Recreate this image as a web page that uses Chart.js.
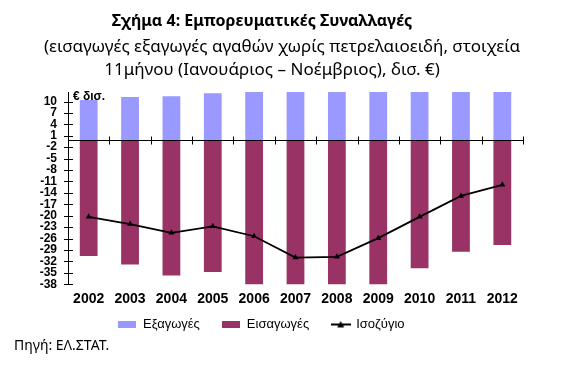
<!DOCTYPE html>
<html>
<head>
<meta charset="utf-8">
<script src="https://cdn.jsdelivr.net/npm/chart.js@4/dist/chart.umd.min.js"></script>
<style>
  html, body { margin: 0; padding: 0; background: #fff; }
  #wrap { position: relative; width: 562px; height: 369px; }
  .t { position: absolute; white-space: nowrap; color: #000; font-family: "Noto Sans", sans-serif; transform: translate(-50%, -50%); }
  #title { left: 262px; top: 20px; font-size: 16px; font-weight: bold; }
  #sub1 { left: 282px; top: 45px; font-size: 17px; }
  #sub2 { left: 272px; top: 68px; font-size: 17px; }
  #source { position: absolute; left: 14px; top: 335px; font: 14px "Noto Sans", sans-serif; color: #000; }
</style>
</head>
<body>
<div id="wrap">
  <canvas id="myChart" width="562" height="369"></canvas>
  <div class="t" id="title">Σχήμα 4: Εμπορευματικές Συναλλαγές</div>
  <div class="t" id="sub1">(εισαγωγές εξαγωγές αγαθών χωρίς πετρελαιοειδή, στοιχεία</div>
  <div class="t" id="sub2">11μήνου (Ιανουάριος – Νοέμβριος), δισ. €)</div>
  <div id="source">Πηγή: ΕΛ.ΣΤΑΤ.</div>
</div>
<script>
// data (δισ. €, 11 μήνες)
const years = ["2002", "2003", "2004", "2005", "2006", "2007", "2008", "2009", "2010", "2011", "2012"];
const exportsData = [10.4, 11.2, 11.4, 12.2, 13.0, 13.5, 13.8, 12.8, 13.5, 14.7, 15.8];
const importsData = [-30.6, -32.8, -35.7, -34.8, -38.4, -44.5, -44.6, -38.7, -33.8, -29.5, -27.7];
const balanceData = [-20.3, -22.2, -24.5, -22.8, -25.4, -31.0, -30.8, -25.9, -20.3, -14.8, -11.9];
const yTicks = [10, 7, 4, 1, -2, -5, -8, -11, -14, -17, -20, -23, -26, -29, -32, -35, -38];

const colExports = "#9999FF";
const colImports = "#993366";

// legend swatches
function boxSwatch(color) {
  const c = document.createElement("canvas");
  c.width = 18; c.height = 7;
  const g = c.getContext("2d");
  g.fillStyle = color;
  g.fillRect(0, 0, 18, 7);
  return c;
}
function lineSwatch() {
  const c = document.createElement("canvas");
  c.width = 20; c.height = 8;
  const g = c.getContext("2d");
  g.strokeStyle = "#000";
  g.lineWidth = 2;
  g.beginPath(); g.moveTo(0, 4); g.lineTo(20, 4); g.stroke();
  g.fillStyle = "#000";
  g.beginPath(); g.moveTo(10, 0.5); g.lineTo(13.5, 7); g.lineTo(6.5, 7); g.closePath(); g.fill();
  return c;
}
const legendStyles = [boxSwatch(colExports), boxSwatch(colImports), lineSwatch()];
const legendPad = ["\u2002\u2002\u2002", "\u2002\u2002\u2002", ""];

// zero line + cross ticks, unit label
const axisDeco = {
  id: "axisDeco",
  afterDraw(chart) {
    const { ctx, chartArea, scales } = chart;
    const y0 = Math.round(scales.y.getPixelForValue(0)) + 0.5;
    const n = years.length;
    const step = (chartArea.right - chartArea.left) / n;
    ctx.save();
    ctx.strokeStyle = "#000";
    ctx.lineWidth = 1;
    ctx.beginPath();
    ctx.moveTo(chartArea.left, y0);
    ctx.lineTo(chartArea.right + 1, y0);
    for (let i = 1; i <= n; i++) {
      const x = Math.round(chartArea.left + i * step) + 0.5;
      ctx.moveTo(x, y0 - 4);
      ctx.lineTo(x, y0 + 4);
    }
    yTicks.forEach(v => {
      const y = Math.round(scales.y.getPixelForValue(v)) + 0.5;
      ctx.moveTo(chartArea.left - 4, y);
      ctx.lineTo(chartArea.left + 5, y);
    });
    ctx.stroke();
    ctx.fillStyle = "#000";
    ctx.font = "bold 12px Arial";
    ctx.textBaseline = "middle";
    ctx.fillText("€ δισ.", chartArea.left + 5, chartArea.top + 5);
    ctx.restore();
  }
};

const config = {
  type: "bar",
  data: {
    labels: years,
    datasets: [
      {
        label: "Εξαγωγές",
        data: exportsData,
        backgroundColor: colExports,
        barPercentage: 0.43,
        categoryPercentage: 1,
        order: 1,
      },
      {
        label: "Εισαγωγές",
        data: importsData,
        backgroundColor: colImports,
        barPercentage: 0.43,
        categoryPercentage: 1,
        order: 1,
      },
      {
        type: "line",
        label: "Ισοζύγιο",
        data: balanceData,
        borderColor: "#000",
        backgroundColor: "#000",
        borderWidth: 1.8,
        pointStyle: "triangle",
        pointRadius: 3.5,
        pointBorderWidth: 0,
        tension: 0,
        order: 0,
      }
    ]
  },
  plugins: [axisDeco],
  options: {
    responsive: false,
    animation: false,
    layout: { padding: { left: 0, right: 39, top: 92, bottom: 28 } },
    scales: {
      x: {
        stacked: true,
        grid: { display: false, drawTicks: false },
        border: { display: false },
        ticks: {
          color: "#000",
          padding: 7,
          font: { family: "Arial", size: 14, weight: "bold" },
          maxRotation: 0,
        },
      },
      y: {
        stacked: false,
        min: -38,
        max: 12.5,
        afterBuildTicks: scale => { scale.ticks = yTicks.map(v => ({ value: v })); },
        afterFit: scale => { scale.width = 68; },
        grid: { display: false, drawTicks: false },
        border: { display: true, color: "#000", width: 1 },
        ticks: {
          color: "#000",
          padding: 11,
          autoSkip: false,
          font: { family: "Arial", size: 12, weight: "bold" },
        },
      },
    },
    plugins: {
      legend: {
        position: "bottom",
        labels: {
          color: "#000",
          font: { family: "Arial", size: 13 },
          usePointStyle: true,
          pointStyleWidth: 18,
          padding: 3,
          sort: (a, b) => a.datasetIndex - b.datasetIndex,
          generateLabels: chart => {
            const items = Chart.defaults.plugins.legend.labels.generateLabels(chart);
            items.forEach(it => {
              it.pointStyle = legendStyles[it.datasetIndex];
              it.text = it.text + legendPad[it.datasetIndex];
            });
            return items;
          },
        },
      },
      tooltip: { enabled: false },
    },
  },
};

const ctx = document.getElementById("myChart").getContext("2d");
const myChart = new Chart(ctx, config);
</script>
</body>
</html>
